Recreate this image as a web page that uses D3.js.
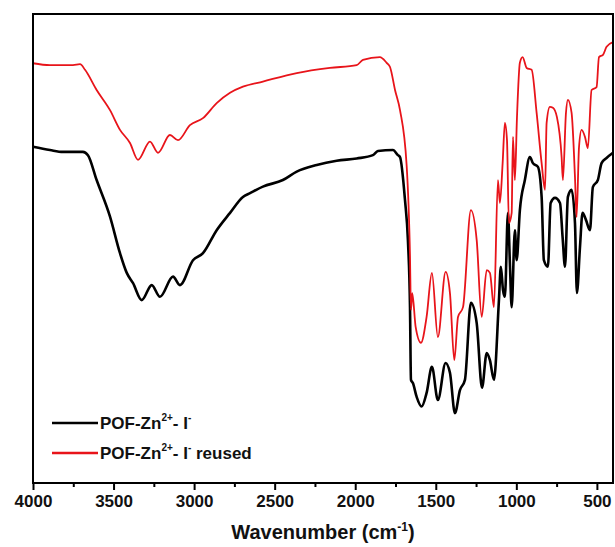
<!DOCTYPE html>
<html>
<head>
<meta charset="utf-8">
<script src="https://cdn.jsdelivr.net/npm/d3@7"></script>
<style>
  body { margin: 0; background: #fff; }
  svg { display: block; font-family: Arial, "Liberation Sans", Helvetica, sans-serif; }
</style>
</head>
<body>
<div id="ftir"></div>
<script>
// wavenumbers (cm-1) and transmittance (a.u.)
var wnPristine = [4000,3895,3814,3690,3659,3605,3522,3460,3418,3379,3325,3263,3212,3131,3088,3007,2945,2860,2777,2697,2653,2573,2449,2363,2239,2115,1991,1890,1859,1766,1735,1722,1691,1673,1660,1654,1642,1619,1588,1557,1524,1487,1439,1412,1381,1350,1319,1282,1246,1213,1184,1164,1139,1108,1096,1083,1071,1052,1040,1029,1009,998,978,947,916,897,866,843,829,804,787,760,729,713,698,680,657,636,624,605,589,568,543,525,494,471,440,400];
var tPristine = [71.7,71.0,70.6,70.6,69.9,64.6,56.8,49.0,44.8,42.6,39.0,42.2,39.7,44.0,42.2,47.5,49.0,53.9,57.6,61.0,61.8,63.2,64.6,66.4,67.8,68.7,69.2,69.9,70.8,71.0,69.9,69.5,60.3,51.8,37.5,22.0,21.3,18.4,16.3,19.2,24.8,17.7,25.6,23.5,14.9,19.8,22.0,38.4,34.1,20.3,27.7,26.2,22.0,39.0,46.1,41.2,39.7,57.6,46.9,37.5,53.9,47.5,58.2,64.6,69.5,68.2,67.4,61.0,47.5,46.1,59.7,60.8,59.7,52.5,46.1,61.0,62.5,55.4,40.5,50.3,57.6,56.1,53.9,63.1,64.6,68.2,69.3,70.4];

var wnReused = [4000,3895,3752,3708,3677,3605,3522,3460,3398,3348,3274,3224,3150,3100,3026,2945,2860,2777,2697,2573,2363,2157,1991,1952,1847,1805,1784,1753,1722,1681,1660,1654,1646,1625,1592,1557,1524,1487,1439,1412,1385,1362,1331,1282,1246,1215,1184,1164,1139,1114,1102,1085,1071,1058,1046,1029,1021,1009,996,978,961,936,905,874,843,822,812,792,773,748,719,711,692,680,657,636,626,611,595,574,556,533,502,487,462,440,400];
var tReused = [89.5,89.1,89.1,89.3,88.1,83.8,79.5,75.3,72.5,68.9,72.8,70.4,74.2,73.1,76.3,77.8,81.0,83.2,84.5,85.6,87.4,88.5,89.1,90.2,90.8,89.6,88.7,83.8,79.5,67.8,48.2,36.9,40.5,33.3,29.9,35.4,44.8,31.1,45.0,40.5,26.2,35.4,37.5,58.2,51.8,35.4,45.4,44.8,37.5,64.6,59.7,68.2,76.8,73.1,55.4,57.6,73.8,64.6,78.0,89.6,90.8,88.5,88.1,78.9,68.2,62.5,76.8,80.2,80.0,78.0,69.5,64.6,78.9,81.7,78.9,65.2,56.7,71.6,75.3,73.8,71.4,83.8,84.4,90.8,91.3,93.0,94.0];

var majorTicks = [4000,3500,3000,2500,2000,1500,1000,500];
var minorTicks = [3750,3250,2750,2250,1750,1250,750];
var seriesColors = ['#000000', '#e8141a'];

(function(){
    var width = 615;
    var height = 547;

    var margin = {
        top: 14,
        bottom: 64,
        left: 33,
        right: 2
    };

    var svg = d3.select('#ftir')
        .append('svg')
            .attr('width', width)
            .attr('height', height);

    var innerW = width - margin.left - margin.right;
    var innerH = height - margin.top - margin.bottom;

    var g = svg.append('g')
        .attr('transform', 'translate(' + margin.left + ',' + margin.top + ')');

    var xScale = d3.scaleLinear()
        .domain([4000, 400])
        .range([0, innerW]);

    var yScale = d3.scaleLinear()
        .domain([0, 100])
        .range([innerH, 0]);

    var pristine = wnPristine.map(function(w, i){ return {wn: w, t: tPristine[i]}; });
    var reused = wnReused.map(function(w, i){ return {wn: w, t: tReused[i]}; });

    var line = d3.line()
        .x(function(d){ return xScale(d.wn); })
        .y(function(d){ return yScale(d.t); })
        .curve(d3.curveMonotoneX);

    g.append('path')
        .datum(pristine)
        .attr('d', line)
        .attr('fill', 'none')
        .attr('stroke', seriesColors[0])
        .attr('stroke-width', 2.6)
        .attr('stroke-linejoin', 'round');

    g.append('path')
        .datum(reused)
        .attr('d', line)
        .attr('fill', 'none')
        .attr('stroke', seriesColors[1])
        .attr('stroke-width', 1.8)
        .attr('stroke-linejoin', 'round');

    // frame
    g.append('rect')
        .attr('x', 0)
        .attr('y', 0)
        .attr('width', innerW)
        .attr('height', innerH)
        .attr('fill', 'none')
        .attr('stroke', '#000')
        .attr('stroke-width', 2);

    var xAxis = d3.axisBottom(xScale)
        .tickValues(majorTicks)
        .tickSize(7)
        .tickPadding(5)
        .tickFormat(d3.format('d'));

    var ax = g.append('g')
        .attr('class', 'x axis')
        .attr('transform', 'translate(0,' + innerH + ')')
        .call(xAxis);
    ax.select('.domain').remove();
    ax.selectAll('.tick line').attr('stroke-width', 2);
    ax.selectAll('.tick text')
        .attr('font-size', '17px')
        .attr('font-weight', 'bold')
        .attr('fill', '#111');

    var minorAxis = d3.axisBottom(xScale)
        .tickValues(minorTicks)
        .tickSize(4)
        .tickFormat('');
    var mx = g.append('g')
        .attr('transform', 'translate(0,' + innerH + ')')
        .call(minorAxis);
    mx.select('.domain').remove();
    mx.selectAll('.tick line').attr('stroke-width', 2);

    // axis title
    var title = svg.append('text')
        .attr('x', margin.left + innerW / 2)
        .attr('y', 539)
        .attr('text-anchor', 'middle')
        .attr('font-size', '20px')
        .attr('font-weight', 'bold')
        .attr('fill', '#111');
    title.append('tspan').text('Wavenumber (cm');
    title.append('tspan').attr('font-size', '12px').attr('dy', '-8').text('-1');
    title.append('tspan').attr('dy', '8').text(')');

    // legend
    var legendNames = [
        {label: 'POF-Zn', tail: ''},
        {label: 'POF-Zn', tail: ' reused'}
    ];
    var legend = svg.append('g')
        .attr('class', 'legend')
        .attr('transform', 'translate(52,423)');

    legendNames.forEach(function(d, i){
        var row = legend.append('g')
            .attr('transform', 'translate(0,' + (i * 30) + ')');
        row.append('line')
            .attr('x1', 0)
            .attr('x2', 46)
            .attr('y1', 0)
            .attr('y2', 0)
            .attr('stroke', seriesColors[i])
            .attr('stroke-width', 2.5);
        var t = row.append('text')
            .attr('x', 48)
            .attr('y', 6)
            .attr('font-size', '17px')
            .attr('font-weight', 'bold')
            .attr('fill', '#111');
        t.append('tspan').text(d.label);
        t.append('tspan').attr('font-size', '10px').attr('dy', '-8').text('2+');
        t.append('tspan').attr('dy', '8').text('- I');
        t.append('tspan').attr('font-size', '10px').attr('dy', '-8').text('-');
        t.append('tspan').attr('dy', '8').text(d.tail);
    });
})();
</script>
</body>
</html>
